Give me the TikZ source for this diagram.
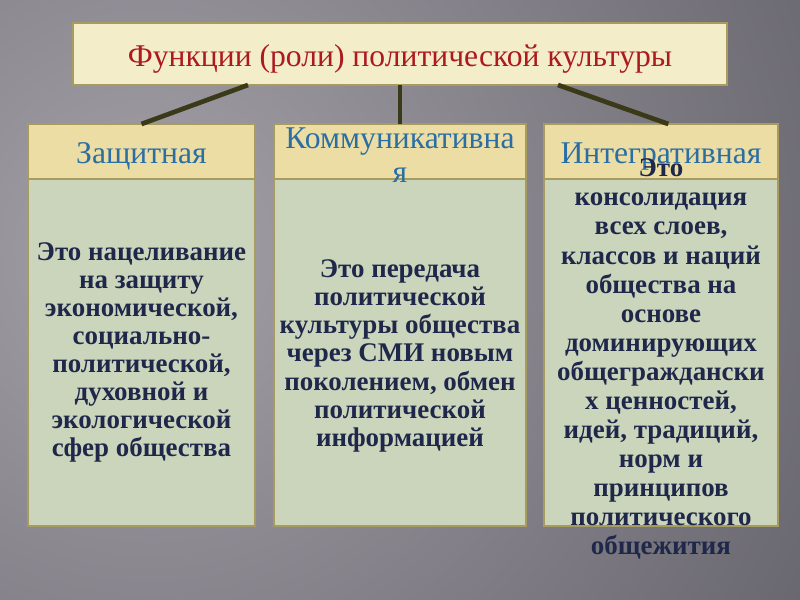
\documentclass[tikz,border=0pt]{standalone}
\usepackage{fontspec}
\setmainfont{Liberation Serif}
\usepackage{tikz}
\definecolor{bglight}{HTML}{A3A0A8}
\definecolor{bgdark}{HTML}{55535B}
\definecolor{topfill}{HTML}{F3EDCA}
\definecolor{headfill}{HTML}{EBDDA3}
\definecolor{bodyfill}{HTML}{CBD5BC}
\definecolor{frame}{HTML}{A89B5E}
\definecolor{stem}{HTML}{3A3A18}
\definecolor{titlered}{HTML}{AC1A1E}
\definecolor{headblue}{HTML}{2B6EA3}
\definecolor{navy}{HTML}{1F284A}

\begin{document}
\begin{tikzpicture}[x=0.03cm,y=-0.03cm]
      \tikzstyle{every node}=[inner sep=0pt,outer sep=0pt]
      \tikzstyle{box}=[draw=frame,line width=1.2pt]
      \tikzstyle{headbox}=[box,fill=headfill,minimum height=1.65cm]
      \tikzstyle{bodybox}=[box,fill=bodyfill,minimum height=10.41cm]
      \tikzstyle{headtext}=[text=headblue,font=\fontsize{27}{29}\selectfont,align=center]
      \tikzstyle{bodytext}=[text=navy,font=\bfseries\fontsize{23}{24}\selectfont,align=center]
      \useasboundingbox (0,0) rectangle (800,600);
      \begin{scope}
      \clip (0,0) rectangle (800,600);
      \shade[inner color=bglight,outer color=bgdark] (150,250) circle (1000);
      \end{scope}
      \node (func) at (400,54) [box,fill=topfill,minimum width=19.62cm,minimum height=1.86cm] {};
      \node (functext) at (func) [yshift=-0.15cm,text=titlered,font=\fontsize{27}{30}\selectfont]
                 {Функции (роли) политической культуры};
      \node (body1) at (141.5,352.5) [bodybox,minimum width=6.81cm] {};
      \node (body2) at (400,352.5) [bodybox,minimum width=7.56cm] {};
      \node (body3) at (661,352.5) [bodybox,minimum width=7.02cm] {};
      \node (head1) at (141.5,151.5) [headbox,minimum width=6.81cm] {};
      \node (head2) at (400,151.5) [headbox,minimum width=7.56cm] {};
      \node (head3) at (661,151.5) [headbox,minimum width=7.02cm] {};
      \node (head1text) at (head1) [headtext,yshift=-0.15cm] {Защитная};
      \node (head2text) at (head2) [headtext,yshift=-0.1cm] {Коммуникативна\\я};
      \node (head3text) at (head3) [headtext,yshift=-0.15cm] {Интегративная};
      \coordinate (stem1) at (248,85);
      \coordinate (stem2) at (400,85);
      \coordinate (stem3) at (558,85);
      \draw[stem,line width=4pt] (stem1) -- (head1.north);
      \draw[stem,line width=4pt] (stem2) -- (head2.north);
      \draw[stem,line width=4pt] (stem3) -- (head3.75);
      \node (text1) at (body1) [bodytext]
            {Это нацеливание\\на защиту\\экономической,\\социально-\\политической,\\духовной и\\экологической\\сфер общества};
      \node (text2) at (body2) [bodytext,yshift=-0.1cm]
            {Это передача\\политической\\культуры общества\\через СМИ новым\\поколением, обмен\\политической\\информацией};
      \node (text3) at (body3) [bodytext,yshift=-0.2cm,font=\bfseries\fontsize{23}{24.8}\selectfont]
            {Это\\консолидация\\всех слоев,\\классов и наций\\общества на\\основе\\доминирующих\\общеграждански\\х ценностей,\\идей, традиций,\\норм и\\принципов\\политического\\общежития};
  \end{tikzpicture}
\end{document}
